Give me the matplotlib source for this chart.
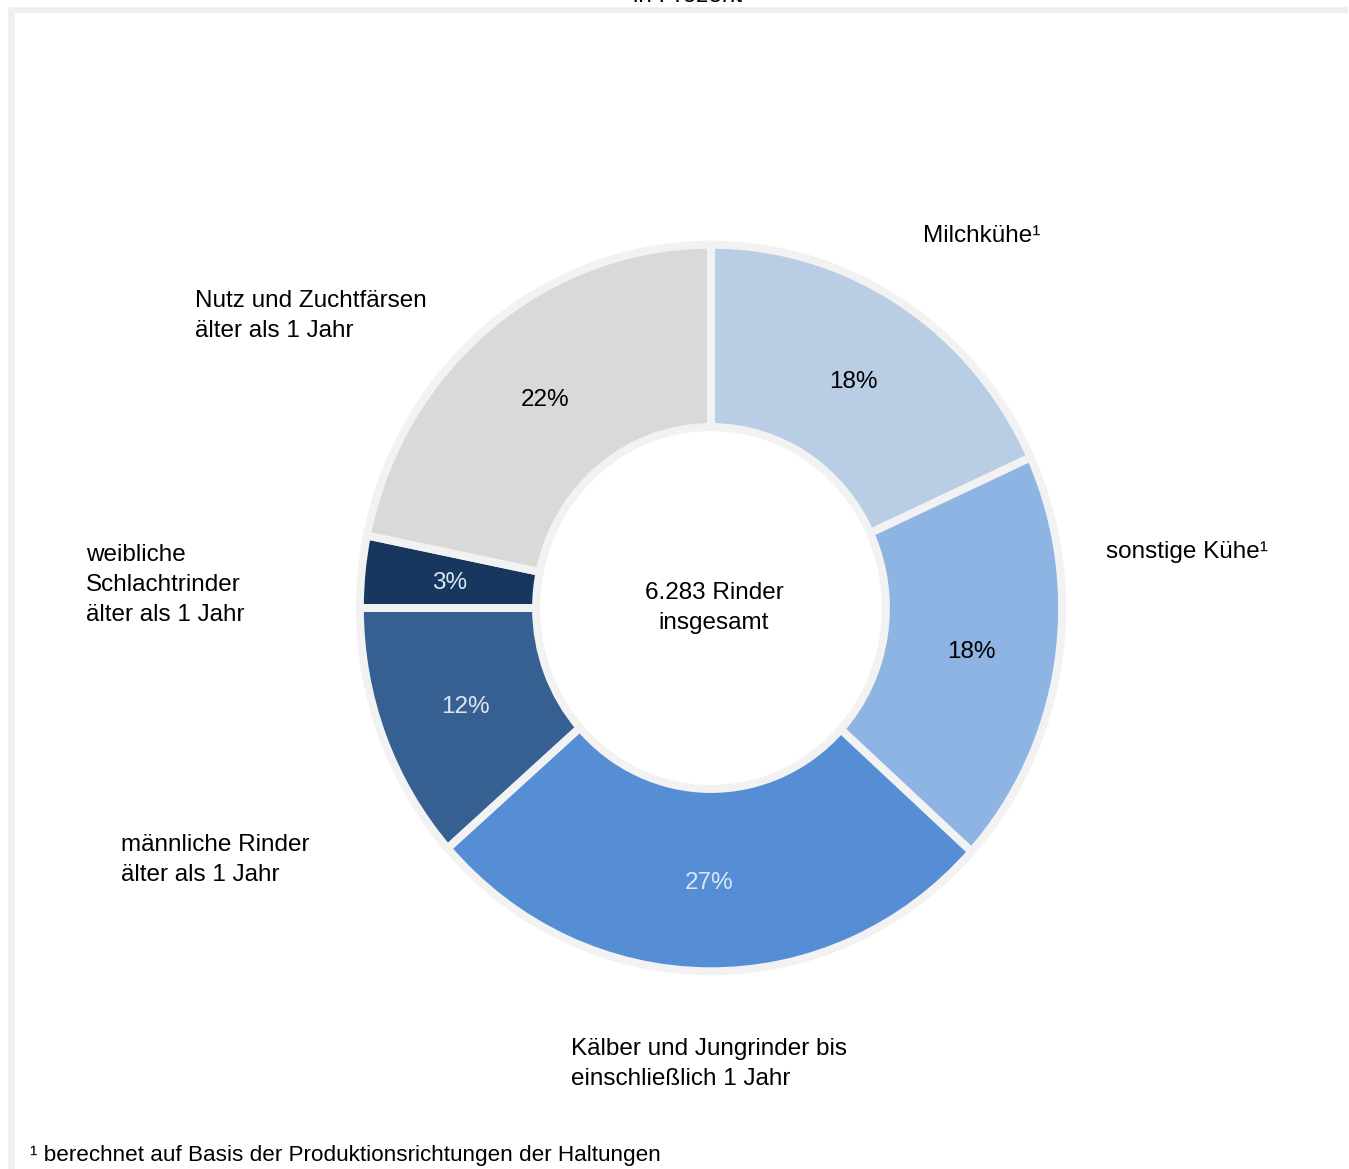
import matplotlib
matplotlib.use("Agg")
import matplotlib.pyplot as plt
from matplotlib.patches import Rectangle

plt.rcParams['font.family'] = ['Liberation Sans', 'DejaVu Sans']

# ---- data ----
categories = ["Milchkühe¹", "sonstige Kühe¹", "Kälber und Jungrinder bis\neinschließlich 1 Jahr",
              "männliche Rinder\nälter als 1 Jahr", "weibliche\nSchlachtrinder\nälter als 1 Jahr",
              "Nutz und Zuchtfärsen\nälter als 1 Jahr"]
values = [18.2, 18.5, 26.8, 11.5, 3.2, 21.8]
pct_labels = ["18%", "18%", "27%", "12%", "3%", "22%"]
center_text = "6.283 Rinder\ninsgesamt"
title = "in Prozent"
footnote = "¹ berechnet auf Basis der Produktionsrichtungen der Haltungen"

colors = ["#b9cde5", "#8eb4e3", "#558ed5", "#376092", "#17375e", "#d9d9d9"]
pct_colors = ["#000000", "#000000", "#dce6f2", "#dce6f2", "#dce6f2", "#000000"]

W, H = 1349, 1169
DPI = 100
fig = plt.figure(figsize=(W / DPI, H / DPI), dpi=DPI)
fig.patch.set_facecolor("white")

# overlay axes in pixel coordinates for frame and labels
ov = fig.add_axes([0, 0, 1, 1])
ov.set_xlim(0, W)
ov.set_ylim(H, 0)
ov.axis("off")
ov.add_patch(Rectangle((8, 7), W - 9, 6, facecolor="#f0f0f0", edgecolor="none"))
ov.add_patch(Rectangle((8, 7), 7, H - 7, facecolor="#f0f0f0", edgecolor="none"))
ov.text(688, 2, title, ha="center", va="baseline", fontsize=17.5, color="#000000")

# pie axes
cx, cy = 711, 608
rx, ry = 347, 359
ax = fig.add_axes([0, 0, 1, 1])
ax.axis("off")
R = 1.012
inner = 0.504
counter = {"i": 0}

def fmt(p):
    s = pct_labels[counter["i"]]
    counter["i"] += 1
    return s

wedges, texts, autotexts = ax.pie(
    values, startangle=90, counterclock=False, radius=R, colors=colors,
    wedgeprops=dict(width=R - inner, edgecolor="#f2f2f2", linewidth=8 * 72 / DPI),
    autopct=fmt, pctdistance=0.758 / R,
    textprops=dict(fontsize=17.5))
for t, c in zip(autotexts, pct_colors):
    t.set_color(c)
    t.set_va("center_baseline")
ax.set_aspect("auto")
ax.set_xlim(-cx / rx, (W - cx) / rx)
ax.set_ylim(-(H - cy) / ry, cy / ry)

ax.text(3 / rx, 0 / ry, center_text, ha="center", va="center", fontsize=17.5,
        color="#000000", linespacing=1.45)

# category labels (left aligned, pixel positions)
label_pos = [(923, 236), (1106, 552), (571, 1064), (121, 860), (86, 585), (195, 316)]
for lab, (x, y) in zip(categories, label_pos):
    ov.text(x, y, lab, ha="left", va="center", fontsize=17.5, color="#000000",
            linespacing=1.45)

ov.text(30, 1155, footnote, ha="left", va="center", fontsize=16.2, color="#000000")

fig.savefig("out.png", dpi=DPI, facecolor="white")
